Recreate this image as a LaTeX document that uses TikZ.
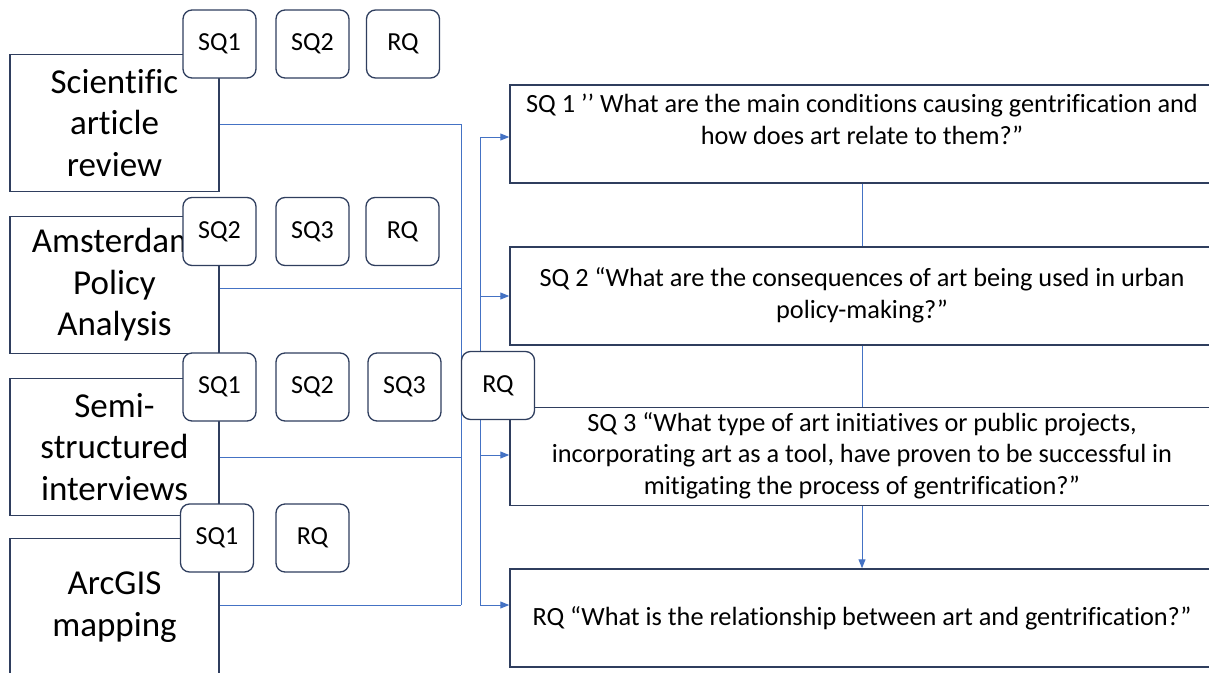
\documentclass[tikz,border=0pt]{standalone}
\usepackage{fontspec}
\setmainfont{Carlito}[Ligatures=NoCommon]
\usetikzlibrary{arrows.meta}
\definecolor{boxline}{RGB}{47,62,94}
\definecolor{connblue}{RGB}{68,114,196}
\tikzset{
 method/.style={draw=boxline, line width=1.5pt, fill=white, minimum width=209pt, minimum height=137pt, inner sep=0pt, align=center, font=\fontsize{35}{41.5}\selectfont},
 tag/.style={draw=boxline, line width=1.3pt, fill=white, rounded corners=9pt, minimum width=73pt, minimum height=68pt, inner sep=0pt, font=\fontsize{26}{30}\selectfont},
 question/.style={draw=boxline, line width=1.5pt, fill=white, minimum width=704pt, minimum height=98pt, inner sep=0pt},
 qtext/.style={inner sep=0pt, align=center, font=\fontsize{26.3}{31.5}\selectfont},
 conn/.style={draw=connblue, line width=1pt},
 arr/.style={conn, -{Triangle[length=9pt,width=7pt]}}
}
\begin{document}
\begin{tikzpicture}[x=1pt,y=-1pt]
\useasboundingbox (0,0) rectangle (1209,672);
\clip (0,0) rectangle (1209,672);
% method boxes
\node[method] (m1) at (114.5,123) {Scientific\\article\\review};
\node[method] (m2) at (114.5,285) {Amsterdam\\Policy\\Analysis};
\node[method] (m3) at (114.5,447) {Semi-\\structured\\interviews};
\node[method] (m4) at (114.5,607) {ArcGIS\\mapping};
% question boxes
\node[question] (q1) at (862,134) {};
\node[question] (q2) at (862,296) {};
\node[question] (q3) at (862,456.5) {};
\node[question] (q4) at (862,618) {};
\node[qtext] (q1t) at (862,119.5) {SQ 1 ’’ What are the main conditions causing gentrification and\\how does art relate to them?”};
\node[qtext] (q2t) at (862,295.5) {SQ 2 “What are the consequences of art being used in urban\\policy-making?”};
\node[qtext] (q3t) at (862,455.5) {SQ 3 “What type of art initiatives or public projects,\\incorporating art as a tool, have proven to be successful in\\mitigating the process of gentrification?”};
\node[qtext] (q4t) at (862,618) {RQ “What is the relationship between art and gentrification?”};
% bus coordinates
\coordinate (j1) at (461,124);
\coordinate (j2) at (461,288);
\coordinate (j3) at (461,457);
\coordinate (j4) at (461,605);
\coordinate (k1) at (480,137);
\coordinate (k2) at (480,296);
\coordinate (k3) at (480,455);
\coordinate (k4) at (480,605);
\draw[conn] (j1 -| m1.east) -- (j1);
\draw[conn] (j2 -| m2.east) -- (j2);
\draw[conn] (j3 -| m3.east) -- (j3);
\draw[conn] (j4 -| m4.east) -- (j4);
\draw[conn] (j1) -- (j4);
\draw[conn] (k1) -- (k4);
\draw[arr] (k1) -- (k1 -| q1.west);
\draw[arr] (k2) -- (k2 -| q2.west);
\draw[arr] (k3) -- (k3 -| q3.west);
\draw[arr] (k4) -- (k4 -| q4.west);
\draw[conn] (q1.south) -- (q2.north);
\draw[conn] (q2.south) -- (q3.north);
\draw[arr] (q3.south) -- (q4.north);
% tags
\node[tag] (a1) at (219.5,44) {SQ1};
\node[tag] (a2) at (312.5,44) {SQ2};
\node[tag] (a3) at (403,44) {RQ};
\node[tag] (b1) at (219.5,231.5) {SQ2};
\node[tag] (b2) at (312.5,231.5) {SQ3};
\node[tag] (b3) at (402.5,231.5) {RQ};
\node[tag] (c1) at (219.5,387) {SQ1};
\node[tag] (c2) at (312.5,387) {SQ2};
\node[tag] (c3) at (404.5,387) {SQ3};
\node[tag] (rq) at (498,385.5) {RQ};
\node[tag] (d1) at (217,538) {SQ1};
\node[tag] (d2) at (312.5,538) {RQ};
\end{tikzpicture}
\end{document}
